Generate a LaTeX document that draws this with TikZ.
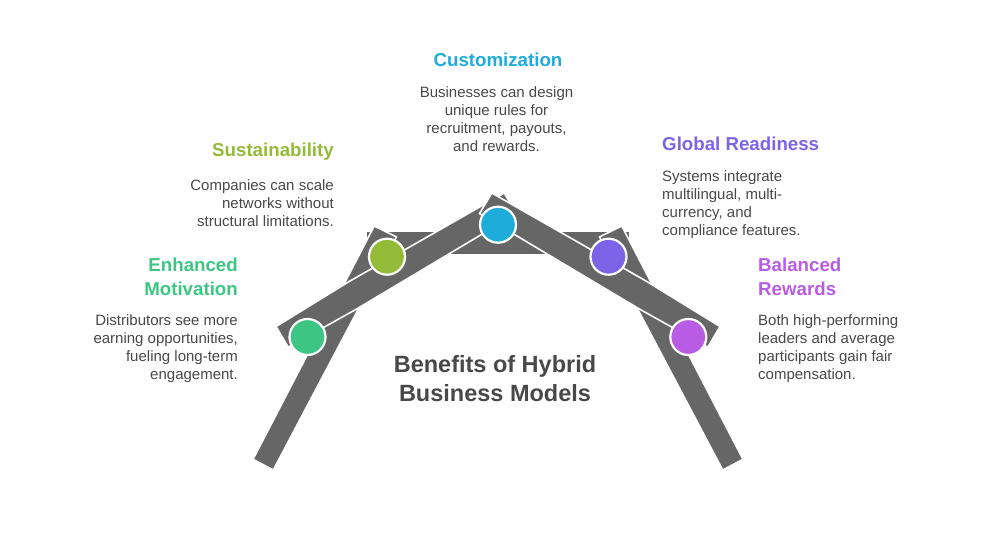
\documentclass[tikz,border=0pt]{standalone}
\usepackage{fontspec}
\setmainfont{Liberation Sans}
\definecolor{cbar}{HTML}{666666}
\definecolor{ctext}{HTML}{484848}
\definecolor{cgreen}{HTML}{3CC583}
\definecolor{colive}{HTML}{93BB38}
\definecolor{cblue}{HTML}{1EACDB}
\definecolor{cpurple}{HTML}{7D63E8}
\definecolor{cmagenta}{HTML}{B75CE3}
\tikzset{
  barshape/.style={fill=cbar,draw=white,line width=1.6pt,line join=miter},
  dot/.style={circle,draw=white,line width=2.2pt,minimum size=36pt,inner sep=0pt,outer sep=0pt},
  head/.style={font=\fontsize{18.7}{24}\selectfont\bfseries,inner sep=0pt},
  body/.style={font=\fontsize{15}{18}\selectfont,text=ctext,inner sep=0pt},
  title/.style={font=\fontsize{23.5}{29}\selectfont\bfseries,text=ctext,inner sep=0pt,align=center}
}
\begin{document}
\begin{tikzpicture}[x=1pt,y=-1pt]
\useasboundingbox (0,0) rectangle (996,552);
% cross bar
\fill[cbar] (367,232) rectangle (629,254);
% steep bars
\draw[barshape] (253,459.3) -- (374.2,226) -- (396.5,236.9) -- (273.3,470) -- cycle;
\draw[barshape] (743,459.3) -- (621.8,226) -- (599.5,236.9) -- (722.7,470) -- cycle;
% long bars
\draw[barshape] (276,326.5) -- (350,281) -- (504.2,193) -- (516.5,213.6) -- (357,308.8) -- (288.2,347.2) -- cycle;
\draw[barshape] (720,326.5) -- (646,281) -- (491.8,193) -- (479.5,213.6) -- (639,308.8) -- (707.8,347.2) -- cycle;
% dots
\node[dot,fill=cgreen] (d1) at (307.5,337) {};
\node[dot,fill=colive] (d2) at (387,256.7) {};
\node[dot,fill=cblue] (d3) at (498,224.7) {};
\node[dot,fill=cpurple] (d4) at (608.5,256.7) {};
\node[dot,fill=cmagenta] (d5) at (688.3,337) {};
% centre title
\node[title] (t) at (495,378.5) {Benefits of Hybrid\\Business Models};
% texts
\node[head,text=cblue,align=center] (h3) at (498,59.5) {Customization};
\node[body,align=center,anchor=north] (b3) at (496.5,86.5) {Businesses can design\\unique rules for\\recruitment, payouts,\\and rewards.};
\node[head,text=colive,align=right,anchor=east] (h2) at (334,151.5) {Sustainability};
\node[body,align=right,anchor=north east] (b2) at (334,179.5) {Companies can scale\\networks without\\structural limitations.};
\node[head,text=cgreen,align=right,anchor=north east] (h1) at (238,257.5) {Enhanced\\Motivation};
\node[body,align=right,anchor=north east] (b1) at (238,314.5) {Distributors see more\\earning opportunities,\\fueling long-term\\engagement.};
\node[head,text=cpurple,align=left,anchor=west] (h4) at (662,144) {Global Readiness};
\node[body,align=left,anchor=north west] (b4) at (662,170.5) {Systems integrate\\multilingual, multi-\\currency, and\\compliance features.};
\node[head,text=cmagenta,align=left,anchor=north west] (h5) at (758,257.5) {Balanced\\Rewards};
\node[body,align=left,anchor=north west] (b5) at (758,314.5) {Both high-performing\\leaders and average\\participants gain fair\\compensation.};
\end{tikzpicture}
\end{document}
